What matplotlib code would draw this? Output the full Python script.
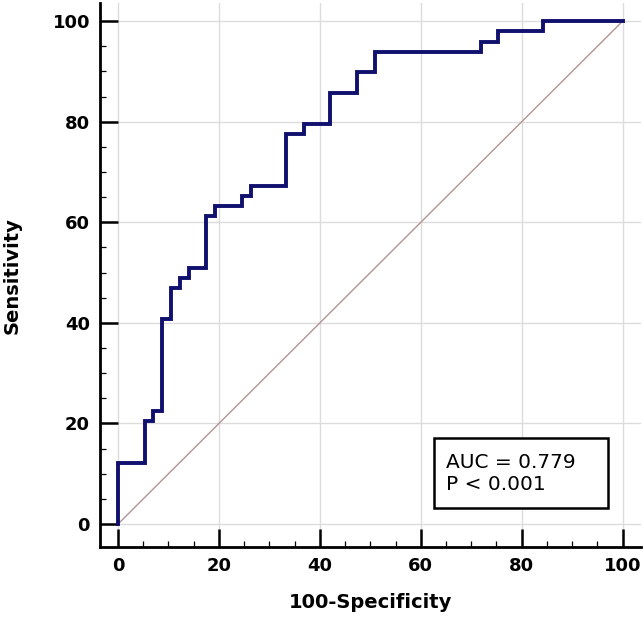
import matplotlib.pyplot as plt
from matplotlib.patches import Rectangle
from matplotlib.ticker import MultipleLocator

### Data ###

# step corners of the ROC curve, in percent
fpr = [0, 0, 5.3, 5.3, 7.0, 7.0, 8.8, 8.8, 10.5, 10.5, 12.3, 12.3, 14.0, 14.0,
       17.5, 17.5, 19.3, 19.3, 24.6, 24.6, 26.3, 26.3, 33.3, 33.3, 36.8, 36.8,
       42.1, 42.1, 47.4, 47.4, 50.9, 50.9, 71.9, 71.9, 75.4, 75.4, 84.2, 84.2, 100]
tpr = [0, 12.2, 12.2, 20.4, 20.4, 22.4, 22.4, 40.8, 40.8, 46.9, 46.9, 49.0, 49.0, 51.0,
       51.0, 61.2, 61.2, 63.3, 63.3, 65.3, 65.3, 67.3, 67.3, 77.6, 77.6, 79.6,
       79.6, 85.7, 85.7, 89.8, 89.8, 93.9, 93.9, 95.9, 95.9, 98.0, 98.0, 100, 100]

ref_line = [0, 100]
ticks = [0, 20, 40, 60, 80, 100]
auc_text = "AUC = 0.779\nP < 0.001"

### Plot ###

fig = plt.figure(figsize=(6.44, 6.19), dpi=100)
ax = fig.add_axes([0.155, 0.116, 0.84, 0.879])

ax.grid(True, which='major', color='#dcdcdc', linewidth=1.0, zorder=0)
ax.plot(ref_line, ref_line, color='#b39494', linewidth=1.0, zorder=2)
ax.plot(fpr, tpr, color='#10106e', linewidth=2.8, solid_joinstyle='miter', zorder=3)

ax.set_xlim(-3.6, 103.6)
ax.set_ylim(-4.6, 103.6)
ax.set_xticks(ticks)
ax.set_yticks(ticks)
ax.xaxis.set_minor_locator(MultipleLocator(5))
ax.yaxis.set_minor_locator(MultipleLocator(5))

for side in ['top', 'right']:
  ax.spines[side].set_visible(False)
for side in ['left', 'bottom']:
  ax.spines[side].set_linewidth(2.0)

ax.tick_params(which='major', direction='in', length=13, width=1.8, pad=7,
               labelsize=13)
ax.tick_params(which='minor', direction='in', length=4, width=0.9)
for lbl in ax.get_xticklabels() + ax.get_yticklabels():
  lbl.set_fontweight('bold')

ax.set_xlabel("100-Specificity", fontsize=14, fontweight='bold', labelpad=13)
ax.set_ylabel("Sensitivity", fontsize=14, fontweight='bold', labelpad=22)

# annotation box (fixed size, text left-aligned inside)
ax.add_patch(Rectangle((62.6, 3.2), 34.6, 13.9, facecolor='white',
                       edgecolor='black', linewidth=1.8, zorder=5))
ax.text(65.0, 10.15, auc_text, fontsize=14.5, va='center', ha='left',
        linespacing=1.2, zorder=6)

plt.savefig("out.png", dpi=100)
